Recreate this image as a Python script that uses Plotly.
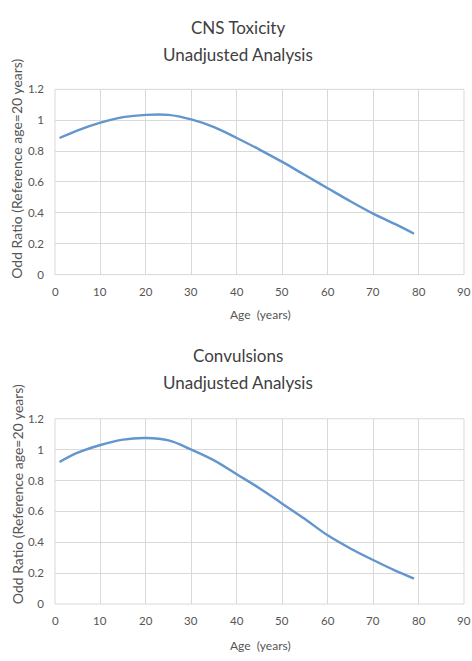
import plotly.graph_objects as go

age = [1, 5, 10, 15, 20, 25, 30, 35, 40, 45, 50, 55, 60, 65, 70, 75, 79]
cns_or = [0.885, 0.935, 0.985, 1.02, 1.035, 1.035, 1.005, 0.955, 0.885, 0.81, 0.73, 0.645, 0.56, 0.475, 0.395, 0.325, 0.265]
conv_or = [0.92, 0.98, 1.03, 1.065, 1.075, 1.06, 1.0, 0.93, 0.84, 0.75, 0.65, 0.55, 0.445, 0.36, 0.285, 0.215, 0.165]

titles = [("CNS Toxicity", "Unadjusted Analysis"), ("Convulsions", "Unadjusted Analysis")]
x_ticks = [0, 10, 20, 30, 40, 50, 60, 70, 80, 90]
y_ticks = [0, 0.2, 0.4, 0.6, 0.8, 1, 1.2]
y_tick_text = ["0", "0.2", "0.4", "0.6", "0.8", "1", "1.2"]

H = 661
font = "Lato, Open Sans, sans-serif"
line_color = "#6296cc"
grid = "#d9d9d9"
tick_col = "#555555"

fig = go.Figure()
fig.add_trace(go.Scatter(x=age, y=cns_or, mode="lines", line=dict(color=line_color, width=2.4, shape="spline"),
                         xaxis="x", yaxis="y", showlegend=False))
fig.add_trace(go.Scatter(x=age, y=conv_or, mode="lines", line=dict(color=line_color, width=2.4, shape="spline"),
                         xaxis="x2", yaxis="y2", showlegend=False))

def yd(top, bot):
    return [1 - bot / H, 1 - top / H]

ax_common = dict(showgrid=True, gridcolor=grid, gridwidth=1, zeroline=False, showline=False,
                 tickfont=dict(family=font, size=11.5, color=tick_col), ticks="")
xa = dict(ax_common, range=[0, 90], tickvals=x_ticks, showticklabels=False)
ya = dict(ax_common, range=[0, 1.2], tickvals=y_ticks, ticktext=y_tick_text, ticklabelstandoff=10)

layout = dict(
    width=472, height=661,
    margin=dict(l=55, r=8, t=0, b=0),
    paper_bgcolor="white", plot_bgcolor="white",
    xaxis=dict(xa, domain=[0, 1], anchor="y"),
    yaxis=dict(ya, domain=yd(84, 273), anchor="x"),
    xaxis2=dict(xa, domain=[0, 1], anchor="y2"),
    yaxis2=dict(ya, domain=yd(420, 609), anchor="x2"),
)
fig.update_layout(**layout)

for xr, yr in (("x domain", "y domain"), ("x2 domain", "y2 domain")):
    fig.add_shape(type="rect", xref=xr, yref=yr, x0=0, x1=1, y0=0, y1=1,
                  line=dict(color=grid, width=1), layer="below")

# x tick labels placed through the x axes' own scale
for xr, yr in (("x", "y domain"), ("x2", "y2 domain")):
    for v in x_ticks:
        fig.add_annotation(text=str(v), x=v, xref=xr, y=0, yref=yr, showarrow=False,
                           xanchor="center", yanchor="top", yshift=-8,
                           font=dict(family=font, size=11.5, color=tick_col))

def ann(text, x, y, size, color="#404040", angle=0):
    fig.add_annotation(text=text, x=x, y=y, xref="paper", yref="paper", showarrow=False,
                       font=dict(family=font, size=size, color=color), textangle=angle,
                       xanchor="center", yanchor="middle")

cx = (238 - 55) / 409
for (t1, t2), (y1, y2) in zip(titles, [(21, 48), (356, 383)]):
    ann(t1, cx, 1 - y1 / H, 17)
    ann(t2, cx, 1 - y2 / H, 17)

xl = (17 - 55) / 409
ann("Odd Ratio (Reference age=20 years)", xl, 1 - 165 / H, 14, color="#555555", angle=-90)
ann("Odd Ratio (Reference age=20 years)", xl, 1 - 497 / H, 14, color="#555555", angle=-90)
ann("Age  (years)", (260 - 55) / 409, 1 - 314 / H, 12, color="#555555")
ann("Age  (years)", (260 - 55) / 409, 1 - 651 / H, 12, color="#555555")

fig.write_html("out.html", config={"displayModeBar": False},
               post_script="document.body.style.margin='0';document.body.style.padding='0';document.documentElement.style.overflow='hidden';")
